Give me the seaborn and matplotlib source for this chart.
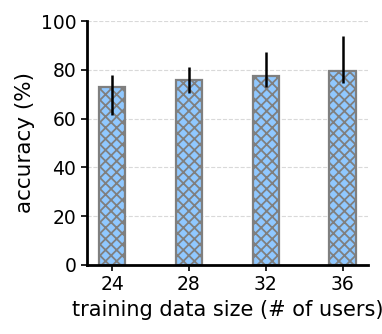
import numpy as np
import pandas as pd
import matplotlib
matplotlib.use("Agg")
import matplotlib.pyplot as plt
import seaborn as sns

sizes = ["24", "28", "32", "36"]
accuracy = [73.1, 75.7, 77.5, 79.5]
err_low = [61.5, 70.5, 73.0, 74.6]
err_high = [78.0, 81.1, 87.4, 93.9]

df = pd.DataFrame({"size": sizes, "accuracy": accuracy})

sns.set_style("white")
plt.rcParams["hatch.color"] = "#808080"
plt.rcParams["hatch.linewidth"] = 1.3

fig, ax = plt.subplots(figsize=(3.82, 3.34), dpi=100)
sns.barplot(data=df, x="size", y="accuracy", color="#90c8ff", width=0.34,
            edgecolor="#7f7f7f", linewidth=1.6, hatch="xxx", saturation=1,
            errorbar=None, ax=ax, zorder=2)

yerr = [np.array(accuracy) - np.array(err_low), np.array(err_high) - np.array(accuracy)]
ax.errorbar(np.arange(len(sizes)), accuracy, yerr=yerr, fmt="none",
            ecolor="black", elinewidth=1.8, capsize=0, zorder=3)

ax.set_ylim(0, 100)
ax.set_xlim(-0.33, 3.33)
ax.set_yticks([0, 20, 40, 60, 80, 100])
ax.yaxis.grid(True, linestyle="--", color="#d9d9d9", linewidth=0.8)
ax.set_axisbelow(True)
sns.despine(ax=ax)
for s in ["left", "bottom"]:
    ax.spines[s].set_linewidth(2)
    ax.spines[s].set_color("black")
ax.tick_params(axis="both", labelsize=13.5, length=4, width=1.2, colors="black",
               bottom=True, left=True)
ax.set_xlabel("training data size (# of users)", fontsize=15, color="black")
ax.set_ylabel("accuracy (%)", fontsize=15.5, color="black")

fig.subplots_adjust(left=0.227, right=0.963, top=0.937, bottom=0.207)
fig.savefig("out.png", dpi=100)
